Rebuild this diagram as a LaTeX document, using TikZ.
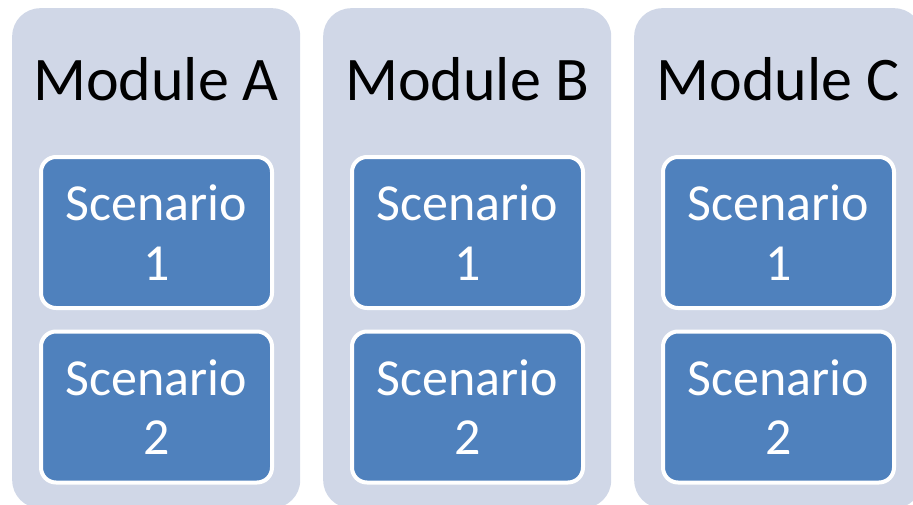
\documentclass[tikz,border=0pt]{standalone}
\usepackage{fontspec}
\setmainfont{Carlito}
\definecolor{colfill}{HTML}{D0D7E7}
\definecolor{scenfill}{HTML}{4F81BD}
\tikzset{
  colbox/.style={fill=colfill, draw=none, rounded corners=28pt, minimum width=288pt, minimum height=500pt, anchor=north west, inner sep=0pt},
  titletext/.style={font=\fontsize{62}{74}\selectfont, text=black, anchor=base, inner sep=0pt},
  scenbox/.style={fill=scenfill, draw=white, line width=4pt, rounded corners=15pt, minimum width=231pt, minimum height=151pt, text=white, align=center, inner sep=0pt, font=\fontsize{52}{59.5}\selectfont}
}
\begin{document}
\begin{tikzpicture}[x=1pt,y=-1pt]
\useasboundingbox (0,0) rectangle (913,504);
\clip (0,0) rectangle (913,504);
\foreach \n/\x/\l in {A/12/A, B/323/B, C/634/C}{
  \node[colbox] (col\n) at (\x,8) {};
  \node[titletext] (title\n) at ([xshift=144pt]col\n.north west |- 0,100) {Module \l};
  \node[scenbox] (s\n1) at ([xshift=144.5pt]col\n.north west |- 0,232.5) {Scenario\\1};
  \node[scenbox] (s\n2) at ([xshift=144.5pt]col\n.north west |- 0,407) {Scenario\\2};
}
\end{tikzpicture}
\end{document}
